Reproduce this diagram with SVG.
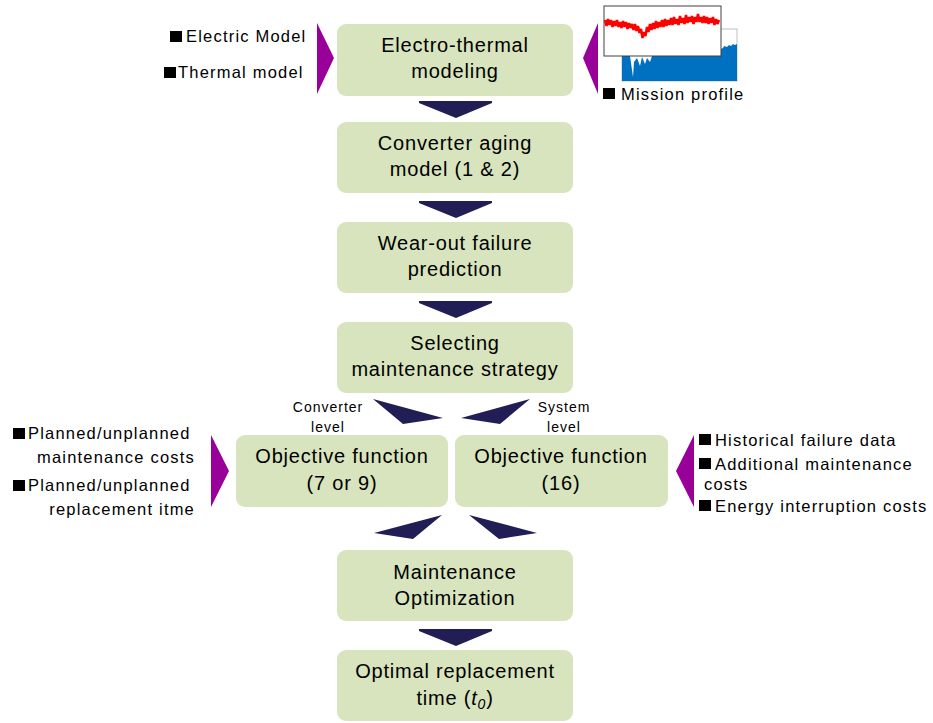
<svg xmlns="http://www.w3.org/2000/svg" width="933" height="723" viewBox="0 0 933 723">
<style>
.box{fill:#D7E4BD;}
.bt{font-family:"Liberation Sans",Arial,sans-serif;font-size:20px;letter-spacing:0.8px;fill:#000;text-anchor:middle;}
.lb{font-family:"Liberation Sans",Arial,sans-serif;font-size:16.5px;letter-spacing:1.2px;fill:#000;}
.sm{font-family:"Liberation Sans",Arial,sans-serif;font-size:14px;letter-spacing:1px;fill:#000;text-anchor:middle;}
.arr{fill:#211D55;}
.pur{fill:#990099;}
.sq{fill:#000;}
</style>
<rect width="933" height="723" fill="#fff"/>

<g id="n1"><rect class="box" x="337" y="24" width="236" height="72" rx="9"/><text class="bt" x="455" y="52">Electro-thermal</text><text class="bt" x="455" y="78">modeling</text></g>
<g id="n2"><rect class="box" x="337" y="122" width="236" height="71" rx="9"/><text class="bt" x="455" y="150">Converter aging</text><text class="bt" x="455" y="176">model (1 &amp; 2)</text></g>
<g id="n3"><rect class="box" x="337" y="222" width="236" height="71" rx="9"/><text class="bt" x="455" y="250">Wear-out failure</text><text class="bt" x="455" y="276">prediction</text></g>
<g id="n4"><rect class="box" x="337" y="322" width="236" height="71" rx="9"/><text class="bt" x="455" y="350">Selecting</text><text class="bt" x="455" y="376">maintenance strategy</text></g>
<g id="n5"><rect class="box" x="236" y="435" width="212" height="72" rx="9"/><text class="bt" x="342" y="463">Objective function</text><text class="bt" x="342" y="490">(7 or 9)</text></g>
<g id="n6"><rect class="box" x="455" y="435" width="213" height="72" rx="9"/><text class="bt" x="561" y="463">Objective function</text><text class="bt" x="561" y="490">(16)</text></g>
<g id="n7"><rect class="box" x="337" y="550" width="236" height="71" rx="9"/><text class="bt" x="455" y="579">Maintenance</text><text class="bt" x="455" y="605">Optimization</text></g>
<g id="n8"><rect class="box" x="337" y="650" width="236" height="71" rx="9"/><text class="bt" x="455" y="678">Optimal replacement</text><text class="bt" x="455" y="705">time (<tspan font-style="italic">t</tspan><tspan font-style="italic" font-size="14" dy="4">0</tspan><tspan dy="-4">)</tspan></text></g>

<g id="connectors">
<polygon class="arr" points="419,101 492,101 492,103 456,118 419,103"/>
<polygon class="arr" points="419,201 492,201 492,203 456,218 419,203"/>
<polygon class="arr" points="419,301 492,301 492,303 456,318 419,303"/>
<polygon class="arr" points="373,399 443,418 403,424"/>
<polygon class="arr" points="530,399 461,418 500,424"/>
<polygon class="arr" points="442,515 374,533 413,539"/>
<polygon class="arr" points="469,515 537,533 499,539"/>
<polygon class="arr" points="419,629 492,629 492,631 456,646 419,631"/>
<polygon class="pur" points="317,23 334,58 317,94"/>
<polygon class="pur" points="598,23 583,58 598,94"/>
<polygon class="pur" points="211,435 229,471 211,507"/>
<polygon class="pur" points="694,435 676,471 694,507"/>
</g>

<g id="labels">
<text class="sm" x="328" y="412">Converter</text>
<text class="sm" x="328" y="432">level</text>
<text class="sm" x="564" y="412">System</text>
<text class="sm" x="564" y="432">level</text>

<rect class="sq" x="170" y="31" width="12" height="11"/><text class="lb" x="186" y="42">Electric Model</text>
<rect class="sq" x="164" y="67" width="12" height="11"/><text class="lb" x="178" y="78">Thermal model</text>

<rect class="sq" x="13" y="428" width="12" height="11"/><text class="lb" x="28" y="439">Planned/unplanned</text>
<text class="lb" x="195" y="463" text-anchor="end">maintenance costs</text>
<rect class="sq" x="13" y="480" width="12" height="11"/><text class="lb" x="28" y="491">Planned/unplanned</text>
<text class="lb" x="195" y="515" text-anchor="end">replacement itme</text>

<rect class="sq" x="699" y="434" width="12" height="11"/><text class="lb" x="715" y="446">Historical failure data</text>
<rect class="sq" x="699" y="458" width="12" height="11"/><text class="lb" x="715" y="470">Additional maintenance</text>
<text class="lb" x="704" y="490">costs</text>
<rect class="sq" x="699" y="500" width="12" height="11"/><text class="lb" x="715" y="512">Energy interruption costs</text>

<rect class="sq" x="603" y="88" width="12" height="11"/><text class="lb" x="621" y="100">Mission profile</text>
</g>

<g id="mission">
<rect x="622" y="29" width="115" height="52" fill="#fff" stroke="#C0C0C0" stroke-width="1"/>
<polygon fill="#0070C0" points="622,81 622,56 630,56 632,70 633,77 634,62 637,58 640,66 642,57 645,64 647,58 650,62 652,56 721,56 721,49 723,48 724,46 727,47 729,45 731,46 733,44 735,45 737,44 737,81"/>
<rect x="604" y="6" width="117" height="50" fill="#fff" stroke="#404040" stroke-width="1"/>
<polyline fill="none" stroke="#FF0000" stroke-width="2.5" stroke-linejoin="bevel" points="605,20 606.5,26 608,19 609.5,25 611,20 612.5,27 614,21 615.5,26 617,20 618.5,27 620,22 621.5,28 623,21 624.5,27 626,22 627.5,29 629,23 630.5,28 632,24 633.5,30 635,24 636.5,31 638,26 639.5,33 641,29 642.5,38 644,32 645.5,36 647,27 648.5,32 650,24 651.5,30 653,23 654.5,29 656,21 657.5,28 659,22 660.5,27 662,20 663.5,27 665,19 666.5,26 668,20 669.5,25 671,18 672.5,25 674,17 675.5,24 677,19 678.5,25 680,16 681.5,23 683,18 684.5,24 686,15 687.5,23 689,17 690.5,22 692,16 693.5,24 695,17 696.5,22 698,14 699.5,22 701,17 702.5,23 704,16 705.5,23 707,17 708.5,24 710,18 711.5,23 713,17 714.5,25 716,19 717.5,24 719,20"/>
</g>
</svg>
